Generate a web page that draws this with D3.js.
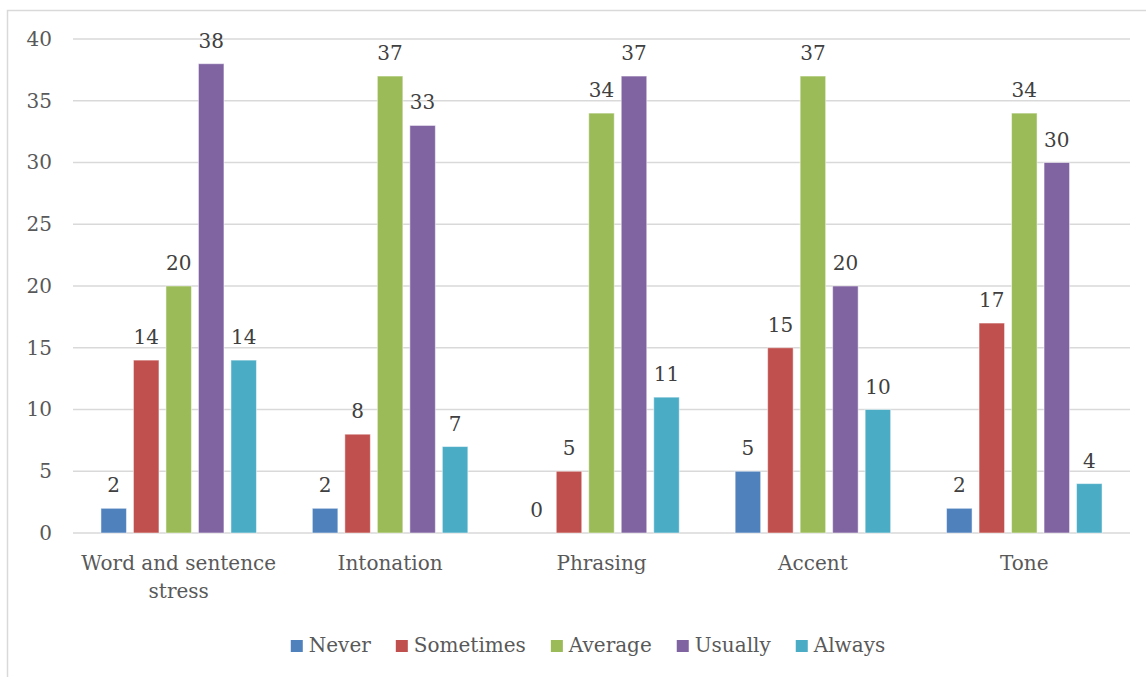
<!DOCTYPE html>
<html>
<head>
<meta charset="utf-8">
<script src="https://cdn.jsdelivr.net/npm/d3@7"></script>
<style>
  html, body { margin: 0; padding: 0; background: #ffffff; }
  svg { display: block; font-family: "DejaVu Serif", serif; }
</style>
</head>
<body>
<svg id="chart" width="1146" height="677"></svg>
<script>
// Categories and survey counts per response
const categories = ["Word and sentence stress", "Intonation", "Phrasing", "Accent", "Tone"];
const seriesNames = ["Never", "Sometimes", "Average", "Usually", "Always"];
const never     = [2, 2, 0, 5, 2];
const sometimes = [14, 8, 5, 15, 17];
const average   = [20, 37, 34, 37, 34];
const usually   = [38, 33, 37, 20, 30];
const always    = [14, 7, 11, 10, 4];
const yTicks    = [0, 5, 10, 15, 20, 25, 30, 35, 40];

const seriesValues = [never, sometimes, average, usually, always];
const colors = ["#4F81BD", "#C0504D", "#9BBB59", "#8064A2", "#4BACC6"];

const svg = d3.select("#chart");
const textColor = "#595959";
const fontSize = 20;

// Chart frame
svg.append("rect")
  .attr("x", 7.5).attr("y", 10.5)
  .attr("width", 1200).attr("height", 700)
  .attr("fill", "none").attr("stroke", "#D9D9D9").attr("stroke-width", 1.5);

const plot = { left: 73, right: 1130, top: 39, bottom: 533 };

const x0 = d3.scaleBand()
  .domain(categories)
  .range([plot.left, plot.right])
  .paddingInner(0).paddingOuter(0);

const x1 = d3.scaleBand()
  .domain(seriesNames)
  .range([0, x0.bandwidth()])
  .paddingInner(0.215)
  .paddingOuter(0.86);

const y = d3.scaleLinear().domain([0, 40]).range([plot.bottom, plot.top]);

// Gridlines
svg.append("g")
  .selectAll("line")
  .data(yTicks)
  .join("line")
  .attr("x1", plot.left).attr("x2", plot.right)
  .attr("y1", d => y(d)).attr("y2", d => y(d))
  .attr("stroke", "#D9D9D9").attr("stroke-width", 1.5);

// Y axis labels
const yAxis = d3.axisLeft(y).tickValues(yTicks).tickSize(0).tickPadding(0);
const yG = svg.append("g")
  .attr("transform", `translate(${plot.left - 21},0)`)
  .call(yAxis);
yG.select(".domain").remove();
yG.selectAll("text")
  .attr("fill", textColor)
  .style("font-size", fontSize + "px")
  .style("font-family", "DejaVu Serif");

// Bars
const groups = svg.append("g")
  .selectAll("g")
  .data(categories)
  .join("g")
  .attr("transform", d => `translate(${x0(d)},0)`);

groups.selectAll("rect")
  .data((c, ci) => seriesNames.map((s, si) => ({ s, v: seriesValues[si][ci], color: colors[si] })))
  .join("rect")
  .attr("x", d => x1(d.s))
  .attr("width", x1.bandwidth())
  .attr("y", d => y(d.v))
  .attr("height", d => y(0) - y(d.v))
  .attr("fill", d => d.color)
  .attr("stroke", "#ffffff")
  .attr("stroke-opacity", 0.5)
  .attr("stroke-width", 1);

// Value labels
groups.selectAll("text.value")
  .data((c, ci) => seriesNames.map((s, si) => ({ s, v: seriesValues[si][ci] })))
  .join("text")
  .attr("class", "value")
  .attr("x", d => x1(d.s) + x1.bandwidth() / 2)
  .attr("y", d => y(d.v) - 16)
  .attr("text-anchor", "middle")
  .attr("fill", "#404040")
  .style("font-size", fontSize + "px")
  .text(d => d.v);

// Category labels with wrapping
const xAxis = d3.axisBottom(x0).tickSize(0).tickPadding(0);
const xG = svg.append("g")
  .attr("transform", `translate(0,${plot.bottom})`)
  .call(xAxis);
xG.select(".domain").remove();
xG.selectAll("text")
  .attr("fill", textColor)
  .style("font-size", fontSize + "px")
  .style("font-family", "DejaVu Serif")
  .attr("dy", null)
  .attr("y", 37)
  .each(function() {
    const t = d3.select(this);
    const words = t.text().split(/\s+/);
    const maxW = x0.bandwidth() - 6;
    t.text(null);
    let line = [];
    let lineNo = 0;
    let tspan = t.append("tspan").attr("x", 0).attr("y", 37);
    words.forEach(w => {
      line.push(w);
      tspan.text(line.join(" "));
      if (tspan.node().getComputedTextLength() > maxW && line.length > 1) {
        line.pop();
        tspan.text(line.join(" "));
        line = [w];
        lineNo++;
        tspan = t.append("tspan").attr("x", 0).attr("y", 37 + lineNo * 28).text(w);
      }
    });
  });

// Legend
const legend = svg.append("g");
const items = legend.selectAll("g")
  .data(seriesNames)
  .join("g");
items.append("rect")
  .attr("width", 12).attr("height", 12)
  .attr("y", -12)
  .attr("fill", (d, i) => colors[i]);
items.append("text")
  .attr("x", 18)
  .attr("fill", textColor)
  .style("font-size", fontSize + "px")
  .text(d => d);
let offset = 0;
items.each(function() {
  const g = d3.select(this);
  const w = 18 + g.select("text").node().getComputedTextLength();
  g.attr("transform", `translate(${offset},0)`);
  offset += w + 25;
});
const legendWidth = offset - 25;
legend.attr("transform", `translate(${588 - legendWidth / 2},652)`);
</script>
</body>
</html>
